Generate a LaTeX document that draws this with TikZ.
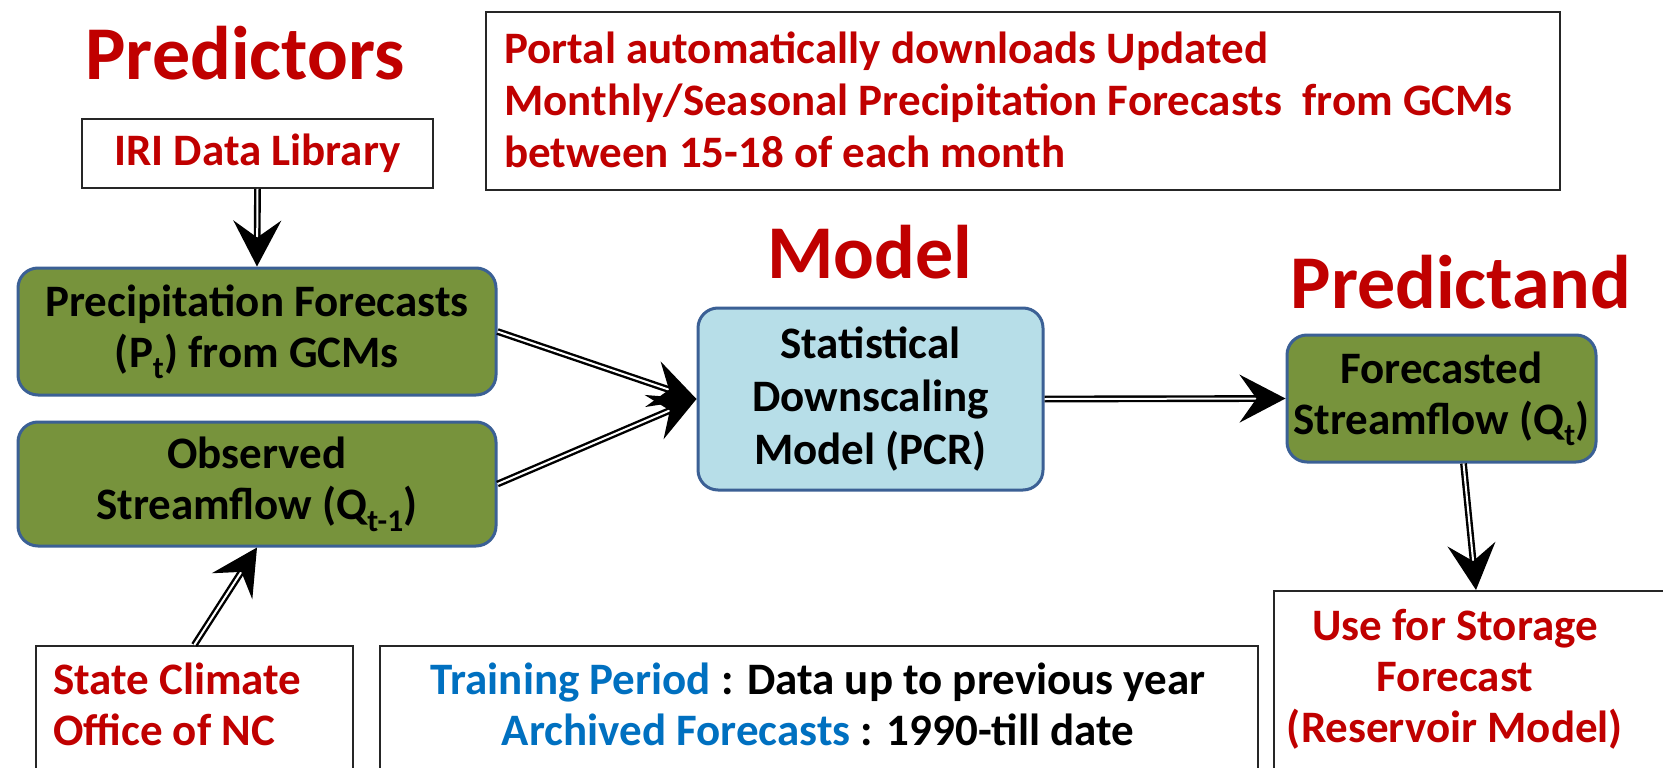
\documentclass[tikz,border=0pt]{standalone}
\usepackage{fontspec}
\setmainfont{Carlito}
\usetikzlibrary{arrows.meta,calc}
\definecolor{rd}{HTML}{C00000}
\definecolor{bl}{HTML}{0070C0}
\definecolor{grn}{HTML}{77933C}
\definecolor{edge}{HTML}{3B6095}
\definecolor{lb}{HTML}{B7DEE8}
\begin{document}
\begin{tikzpicture}[x=1pt,y=-1pt,
 txt/.style={font=\fontsize{45}{51}\selectfont\bfseries},
 ttl/.style={font=\fontsize{76}{80}\selectfont\bfseries, text=rd, anchor=base, inner sep=0},
 gbox/.style={draw=edge, line width=3pt, fill=grn, rounded corners=20pt, align=center, txt, inner sep=0},
 wbox/.style={draw=black!85, line width=1.6pt, fill=white, inner sep=0, anchor=north west},
 arr/.style={draw=black, double=white, line width=2.4pt, double distance=2pt, -{Stealth[length=46pt,width=48pt,inset=17pt]}}
]
\useasboundingbox (0,0) rectangle (1663,768);
\clip (0,0) rectangle (1663,768);
\fill[white] (0,0) rectangle (1663,768);

% titles
\node[ttl] (tpred) at (245,80) {Predictors};
\node[ttl] (tmod) at (870,278) {Model};
\node[ttl] (tpnd) at (1461,308) {Predictand};

% top boxes
\node[wbox, anchor=center, minimum width=351pt, minimum height=69pt, txt, text=rd] (iri) at (257.5,153.5) {IRI Data Library};
\node[wbox, minimum width=1074pt, minimum height=178pt] (portal) at (485,11) {};
\node[anchor=west, inner sep=0, font=\fontsize{45}{52}\selectfont\bfseries, text=rd, align=left] (portt) at (504,100) {Portal automatically downloads Updated\\Monthly/Seasonal Precipitation Forecasts\ \ from GCMs\\between 15-18 of each month};

% main boxes
\node[gbox, minimum width=478pt, minimum height=127pt] (pre) at (257,331.5) {Precipitation Forecasts\\(P\textsubscript{t}) from GCMs};
\node[gbox, minimum width=478pt, minimum height=124pt] (obs) at (257,484) {Observed\\Streamflow (Q\textsubscript{t-1})};
\node[gbox, fill=lb, minimum width=345pt, minimum height=182pt, font=\fontsize{45}{53}\selectfont\bfseries] (mod) at (870.5,399) {Statistical\\Downscaling\\Model (PCR)};
\node[gbox, minimum width=309pt, minimum height=127pt] (fc) at (1441.5,398.5) {Forecasted\\Streamflow (Q\textsubscript{t})};

% bottom boxes (cut by the picture edge)
\node[wbox, minimum width=317pt, minimum height=200pt] (sc) at (35,645) {};
\node[wbox, minimum width=878pt, minimum height=200pt] (tr) at (379,645) {};
\node[wbox, minimum width=450pt, minimum height=250pt] (st) at (1273,590) {};

\node[txt, text=rd, anchor=west, align=left, inner sep=0] (sct) at (53,704.5) {State Climate\\Office of NC};
\node[txt, align=center, inner sep=0] (trt) at (818,704.5) {\textcolor{bl}{Training Period} : Data up to previous year\\\textcolor{bl}{Archived Forecasts} : 1990-till date};
\node[txt, text=rd, align=center, inner sep=0] (stt) at (1455,679) {Use for Storage\\Forecast\\(Reservoir Model)};

% connectors
\coordinate (sttop) at (1476,590);
\draw[arr] (iri.south) -- (pre.north);
\draw[arr] (pre.east) -- (mod.west);
\draw[arr] (obs.east) -- (mod.west);
\draw[arr] (mod.east) -- (fc.west);
\draw[arr] ([xshift=22pt]fc.south) -- (sttop);
\draw[arr] (sc.north) -- (obs.south);
\end{tikzpicture}
\end{document}
